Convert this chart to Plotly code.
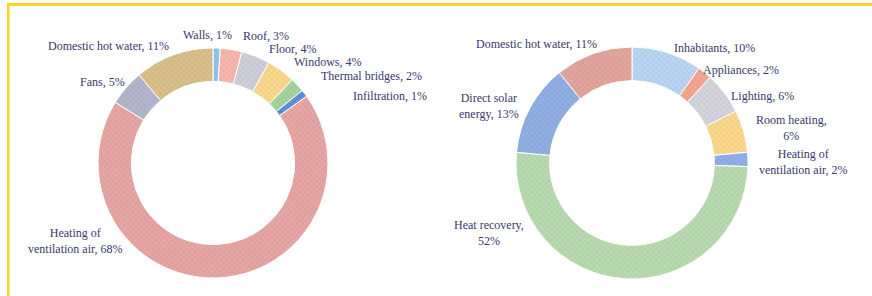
import plotly.graph_objects as go

# ---------------- data ----------------
left_labels = ["Walls", "Roof", "Floor", "Windows", "Thermal bridges", "Infiltration",
               "Heating of ventilation air", "Fans", "Domestic hot water"]
left_values = [1, 3, 4, 4, 2, 1, 68, 5, 11]
left_colors = ["#8EC4EE", "#F6B8AE", "#CFCFDA", "#FAD88C", "#A5D39E", "#5E90D8",
               "#E6A6A4", "#B3B6CB", "#D9BF8A"]

right_labels = ["Inhabitants", "Appliances", "Lighting", "Room heating",
                "Heating of ventilation air", "Heat recovery", "Direct solar energy",
                "Domestic hot water"]
right_values = [10, 2, 6, 6, 2, 52, 13, 11]
right_colors = ["#B9D6F3", "#F5A690", "#D5D4DC", "#FBD98C", "#93ADE8", "#B9DAB1",
                "#91AFE3", "#E2A59D"]

# label text layout (line breaks) per slice, with annotation anchor in pixels
left_text_fmt = ["{n}, {v}%", "{n}, {v}%", "{n}, {v}%", "{n}, {v}%", "{n}, {v}%",
                 "{n}, {v}%", "Heating of<br>ventilation air, {v}%", "{n}, {v}%", "{n}, {v}%"]
left_text_pos = [(207, 35), (266, 36), (293, 49), (328, 62), (371, 76), (390, 96),
                 (75, 241), (102, 82), (108, 46)]
right_text_fmt = ["{n}, {v}%", "{n}, {v}%", "{n}, {v}%", "Room heating,<br>{v}%",
                  "Heating of<br>ventilation air, {v}%", "Heat recovery,<br>{v}%",
                  "Direct solar<br>energy, {v}%", "{n}, {v}%"]
right_text_pos = [(714, 48), (741, 70), (762, 96), (791, 128), (803, 162), (489, 233),
                  (489, 106), (536, 44)]

W, H = 872, 296
TEXT_COLOR = "#38396A"
FONT = "Liberation Serif, Times New Roman, serif"


def darker(hexc, f=0.85):
    r, g, b = int(hexc[1:3], 16), int(hexc[3:5], 16), int(hexc[5:7], 16)
    return "#%02X%02X%02X" % (int(r * f), int(g * f), int(b * f))


def donut(labels, values, colors, cx, cy, r, hole):
    return go.Pie(
        labels=labels, values=values, sort=False, direction="clockwise", rotation=0,
        hole=hole, textinfo="none", hoverinfo="label+percent", showlegend=False,
        marker=dict(colors=colors, line=dict(color="white", width=1),
                    pattern=dict(shape="x", size=4, solidity=0.25,
                                 fgcolor=[darker(c) for c in colors],
                                 bgcolor=colors, fgopacity=0.6)),
        domain=dict(x=[(cx - r) / W, (cx + r) / W], y=[(H - cy - r) / H, (H - cy + r) / H]),
    )


fig = go.Figure()
fig.add_trace(donut(left_labels, left_values, left_colors, 213, 163, 115, 0.71))
fig.add_trace(donut(right_labels, right_values, right_colors, 632, 163, 116, 0.71))

annotations = []
for labels, values, fmts, poss in [(left_labels, left_values, left_text_fmt, left_text_pos),
                                   (right_labels, right_values, right_text_fmt, right_text_pos)]:
    for n, v, f, (px, py) in zip(labels, values, fmts, poss):
        annotations.append(dict(
            text=f.format(n=n, v=v), x=px / W, y=1 - py / H, xref="paper", yref="paper",
            xanchor="center", yanchor="middle", showarrow=False, align="center",
            font=dict(family=FONT, size=12, color=TEXT_COLOR)))

# yellow frame (top and left edges)
shapes = [
    dict(type="rect", xref="paper", yref="paper", x0=7 / W, x1=1.01, y0=1 - 6 / H, y1=1 - 3 / H,
         fillcolor="#F9D42C", line=dict(width=0), layer="below"),
    dict(type="rect", xref="paper", yref="paper", x0=7 / W, x1=9.5 / W, y0=-0.01, y1=1 - 3 / H,
         fillcolor="#F9D42C", line=dict(width=0), layer="below"),
]

fig.update_layout(
    width=W, height=H, margin=dict(l=0, r=0, t=0, b=0),
    paper_bgcolor="white", plot_bgcolor="white",
    annotations=annotations, shapes=shapes,
    font=dict(family=FONT, size=12, color=TEXT_COLOR),
)

fig.write_html("out.html", config=dict(displayModeBar=False),
               post_script="document.body.style.margin='0';document.body.style.overflow='hidden';")
